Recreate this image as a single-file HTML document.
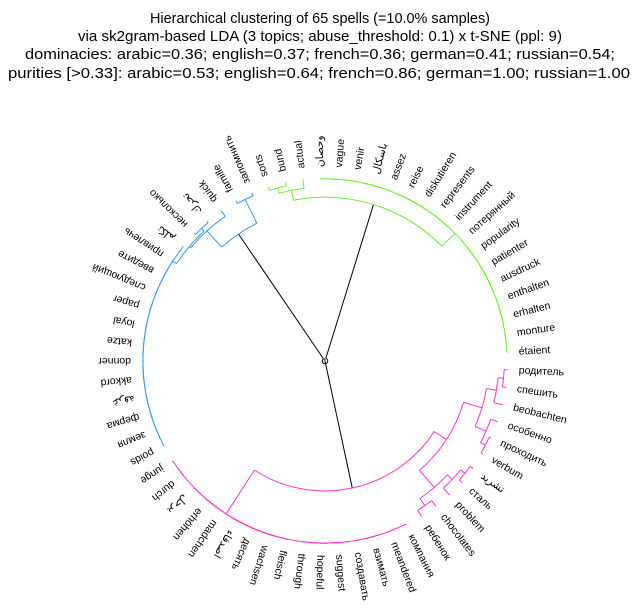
<!DOCTYPE html>
<html><head><meta charset="utf-8">
<style>
html,body{margin:0;padding:0;background:#fff;}
svg{display:block;}
text{font-family:"Liberation Sans","DejaVu Sans",sans-serif;fill:#000;}
</style></head>
<body>
<svg id="chart" width="640" height="612" viewBox="0 0 640 612" xmlns="http://www.w3.org/2000/svg">
<g font-size="14.5" text-anchor="middle">
<text x="320" y="23" textLength="340" lengthAdjust="spacingAndGlyphs">Hierarchical clustering of 65 spells (=10.0% samples)</text>
<text x="320" y="41" textLength="484" lengthAdjust="spacingAndGlyphs">via sk2gram-based LDA (3 topics; abuse_threshold: 0.1) x t-SNE (ppl: 9)</text>
<text x="320" y="59" textLength="590" lengthAdjust="spacingAndGlyphs">dominacies: arabic=0.36; english=0.37; french=0.36; german=0.41; russian=0.54;</text>
<text x="319" y="78" textLength="622" lengthAdjust="spacingAndGlyphs">purities [&gt;0.33]: arabic=0.53; english=0.64; french=0.86; german=1.00; russian=1.00</text>
</g>
<g id="links" fill="none" stroke-width="1"></g>
<g id="labels" font-size="10.5"></g>
</svg>
<script>
const leafLabels = ["родитель","спешить","beobachten","особенно","проходить","verbum","تشريد","сталь","problem","chocolates","ребенок","компания","meandered","взимать","создавать","suggest","hopeful","through","fleisch","wachsen","десять","اصدقاء","madchen","erhöhen","يرحل","durch","junge","poids","земля","ферма","غرفة","akkord","donner","katze","loyal","paper","следующий","введите","привлечь","تكلم","несколько","تحرك","quick","famille","запомнить","sorts","bund","actual","وحصان","vague","venir","باسكال","assez","reise","diskutieren","represents","instrument","потерянный","popularity","patienter","ausdruck","enthalten","erhalten","monture","étaient"];
const clusterColors = {pink:"#ff33cc", blue:"#2f9bf3", green:"#6fee2a", top:"#000000"};
const flatHeight = 0.005;

function bal(lo, hi){ if(lo===hi) return lo; const m=Math.floor((lo+hi)/2); return [flatHeight, bal(lo,m), bal(m+1,hi)]; }
function chain(lo, hi){ let n=lo; for(let i=lo+1;i<=hi;i++) n=[flatHeight,n,i]; return n; }

// tree nodes: [height, left, right]; leaves are indices into leafLabels
const pinkTree = [0.29,
  [flatHeight, bal(11,24), bal(25,26)],
  [0.21,
    [0.105, [0.05,[0.02,0,1],2], [0.04,3,[0.01,4,5]]],
    [0.087, [0.05,[0.02,6,7],8], [0.04,9,10]]
  ]];
const blueTree = [0.16,
  [0.04, [0.03, chain(27,39), [0.01,40,41]], 42],
  [0.015,43,44]];
const greenTree = [0.105,
  [0.05,[0.02,45,46],47],
  bal(48,64)];
const rootHeights = [0.985, 1.0];

const cx=325, cy=361, R=183, labelR=194, N=leafLabels.length;
const NS="http://www.w3.org/2000/svg";
const gl=document.getElementById('links'), gt=document.getElementById('labels');
function ang(p){ return (p+0.5)*360/N; }
function rad(h){ return R*(1-h); }
function pt(a,r){ const t=a*Math.PI/180; return [cx+r*Math.cos(t), cy+r*Math.sin(t)]; }
function pos(n){ return typeof n==='number'? n : (pos(n[1])+pos(n[2]))/2; }
function hgt(n){ return typeof n==='number'? 0 : n[0]; }
function draw(n, color, name){
  if(typeof n==='number') return;
  const rn=rad(n[0]);
  const a1=ang(pos(n[1])), a2=ang(pos(n[2]));
  let d="";
  [n[1],n[2]].forEach(c=>{ const a=ang(pos(c)); const p1=pt(a,rad(hgt(c))), p2=pt(a,rn); d+=`M${p1[0].toFixed(2)},${p1[1].toFixed(2)}L${p2[0].toFixed(2)},${p2[1].toFixed(2)}`; });
  const lo=Math.min(a1,a2), hi=Math.max(a1,a2);
  if(rn>0.1){ const s=pt(lo,rn), e=pt(hi,rn); const large=(hi-lo)>180?1:0; d+=`M${s[0].toFixed(2)},${s[1].toFixed(2)}A${rn},${rn} 0 ${large} 1 ${e[0].toFixed(2)},${e[1].toFixed(2)}`; }
  const p=document.createElementNS(NS,'path');
  p.setAttribute('d',d); p.setAttribute('stroke',color);
  
  
  gl.appendChild(p);
  draw(n[1],color,name); draw(n[2],color,name);
}
const inner=[rootHeights[0], blueTree, greenTree];
const root=[rootHeights[1], inner, pinkTree];
[root, inner].forEach(n=>{
  const rn=rad(n[0]); let d="";
  [n[1],n[2]].forEach(c=>{ const a=ang(pos(c)); const p1=pt(a,rad(hgt(c))), p2=pt(a,rn); d+=`M${p1[0].toFixed(2)},${p1[1].toFixed(2)}L${p2[0].toFixed(2)},${p2[1].toFixed(2)}`; });
  if(rn>0.1){ const a1=ang(pos(n[1])), a2=ang(pos(n[2])); const s=pt(a1,rn), e=pt(a2,rn); d+=`M${s[0]},${s[1]}A${rn},${rn} 0 1 0 ${e[0]},${e[1]}`; }
  const p=document.createElementNS(NS,'path');
  p.setAttribute('d',d); p.setAttribute('stroke',clusterColors.top);
  
  
  gl.appendChild(p);
});
draw(pinkTree, clusterColors.pink, 'pink-cluster-link');
draw(blueTree, clusterColors.blue, 'blue-cluster-link');
draw(greenTree, clusterColors.green, 'green-cluster-link');

leafLabels.forEach((lab,i)=>{
  const a=ang(i); const p=pt(a,labelR);
  const t=document.createElementNS(NS,'text');
  t.setAttribute('transform',`translate(${p[0].toFixed(2)},${p[1].toFixed(2)}) rotate(${a.toFixed(2)})`);
  t.setAttribute('text-anchor', 'start');
  t.setAttribute('dominant-baseline','central');
  t.textContent=lab;
  
  
  gt.appendChild(t);
});
</script>
</body></html>
